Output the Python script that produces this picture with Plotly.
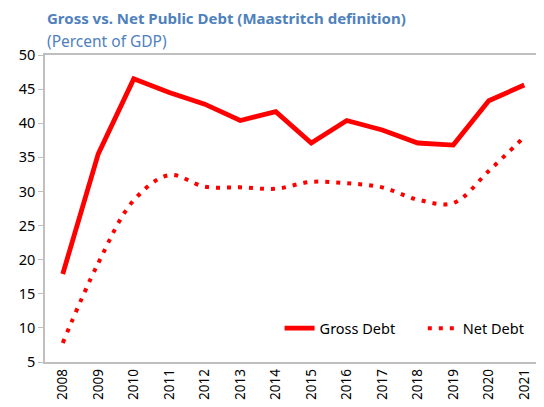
import plotly.graph_objects as go

years = [str(y) for y in range(2008, 2022)]
gross_debt = [17.9, 35.5, 46.5, 44.5, 42.8, 40.4, 41.7, 37.1, 40.4, 39.0, 37.1, 36.8, 43.3, 45.6]
net_debt = [7.8, 19.5, 28.7, 32.4, 30.7, 30.6, 30.4, 31.4, 31.2, 30.6, 28.8, 28.3, 33.0, 38.0]

RED = "#ff0000"
BLUE = "#4f81bd"
fig = go.Figure()
fig.add_trace(go.Scatter(x=years, y=gross_debt, name="Gross Debt" + "\u00a0" * 6, mode="lines",
                         line=dict(color=RED, width=4.8)))
fig.add_trace(go.Scatter(x=years, y=net_debt, name="Net Debt", mode="lines",
                         line=dict(color=RED, width=4, dash="4px,7px", shape="spline")))

# page body has an 8px margin; compensate so the plot lands where the reference has it
fig.update_layout(
    width=544, height=407,
    margin=dict(l=37, r=8, t=47, b=53),
    paper_bgcolor="white", plot_bgcolor="white",
    font=dict(family="Noto Sans", size=13, color="black"),
    showlegend=True,
    legend=dict(orientation="h", x=0.975, y=0.11, xanchor="right", yanchor="middle",
                bgcolor="rgba(0,0,0,0)", font=dict(size=14.5)),
    xaxis=dict(type="category", range=[-0.5, 13.5], tickangle=-90, showline=True,
               linecolor="#bfbfbf", linewidth=1.5, mirror=True, showgrid=False,
               ticks="", tickfont=dict(size=13.5)),
    yaxis=dict(range=[5, 50], dtick=5, showline=True, linecolor="#bfbfbf", linewidth=1.5,
               mirror=True, showgrid=False, ticks="outside", ticklen=5, tickcolor="#bfbfbf",
               tickfont=dict(size=14.5), zeroline=False),
    annotations=[
        dict(text="<b>Gross vs. Net Public Debt (Maastritch definition)</b>", x=0, y=1.1205,
             xref="paper", yref="paper", showarrow=False, xanchor="left", yanchor="middle",
             font=dict(size=15, color=BLUE)),
        dict(text="(Percent of GDP)", x=0, y=1.0456, xref="paper", yref="paper",
             showarrow=False, xanchor="left", yanchor="middle",
             font=dict(size=15.5, color=BLUE)),
    ],
)

fig.write_html("out.html")
